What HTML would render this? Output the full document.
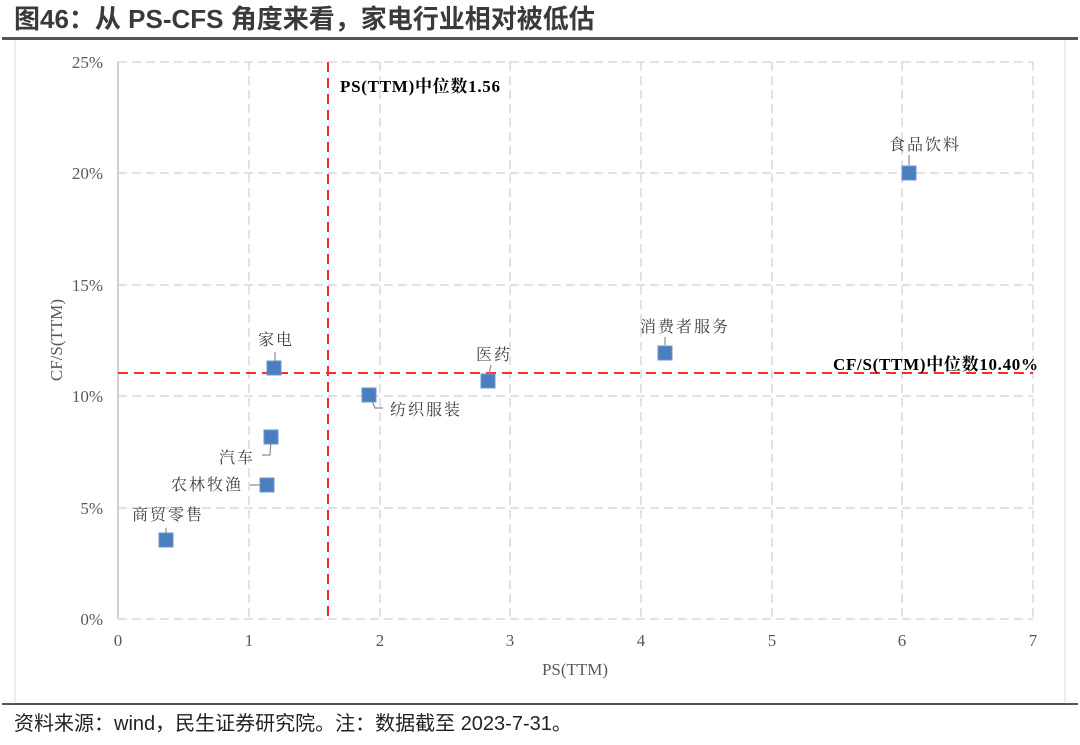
<!DOCTYPE html><html><head><meta charset="utf-8"><style>
body{margin:0;width:1080px;height:740px;background:#fff;overflow:hidden;font-family:"Liberation Sans","Noto Sans CJK SC",sans-serif}
</style></head><body>
<svg width="1080" height="740" xmlns="http://www.w3.org/2000/svg">
<text x="14" y="28" font-size="26" font-weight="bold" fill="#3a3a3a" font-family="Liberation Sans,Noto Sans CJK SC,sans-serif">图46：从 PS-CFS 角度来看，家电行业相对被低估</text>
<rect x="2" y="37" width="1076" height="3" fill="#555"/>
<line x1="15" y1="40" x2="15" y2="703" stroke="#ddd"/>
<line x1="1065" y1="40" x2="1065" y2="703" stroke="#ddd"/>
<rect x="2" y="703" width="1076" height="2" fill="#555"/>
<text x="14" y="730" font-size="20" fill="#222" font-family="Liberation Sans,Noto Sans CJK SC,sans-serif">资料来源：wind，民生证券研究院。注：数据截至 2023-7-31。</text>
<g stroke="#d9d9d9" stroke-width="1.5" stroke-dasharray="9,5" fill="none">
<line x1="118" y1="62" x2="1033" y2="62"/><line x1="118" y1="173" x2="1033" y2="173"/><line x1="118" y1="285" x2="1033" y2="285"/><line x1="118" y1="396" x2="1033" y2="396"/><line x1="118" y1="508" x2="1033" y2="508"/><line x1="118" y1="619" x2="1033" y2="619"/>
<line x1="249" y1="62" x2="249" y2="619"/><line x1="380" y1="62" x2="380" y2="619"/><line x1="510" y1="62" x2="510" y2="619"/><line x1="641" y1="62" x2="641" y2="619"/><line x1="772" y1="62" x2="772" y2="619"/><line x1="902" y1="62" x2="902" y2="619"/><line x1="1033" y1="62" x2="1033" y2="619"/>
</g>
<line x1="118" y1="62" x2="118" y2="619" stroke="#bfbfbf" stroke-width="1.5"/>
<g font-family="Liberation Serif,Noto Serif CJK SC,serif" font-size="17" fill="#595959" text-anchor="end">
<text x="103" y="68">25%</text><text x="103" y="179">20%</text><text x="103" y="291">15%</text><text x="103" y="402">10%</text><text x="103" y="514">5%</text><text x="103" y="625">0%</text></g>
<g font-family="Liberation Serif,Noto Serif CJK SC,serif" font-size="17" fill="#595959" text-anchor="middle">
<text x="118" y="646">0</text><text x="249" y="646">1</text><text x="380" y="646">2</text><text x="510" y="646">3</text><text x="641" y="646">4</text><text x="772" y="646">5</text><text x="902" y="646">6</text><text x="1033" y="646">7</text>
<text x="575" y="675">PS(TTM)</text>
<text transform="translate(62,340) rotate(-90)">CF/S(TTM)</text></g>
<g stroke="#ff2a2a" stroke-width="2" stroke-dasharray="10,6"><line x1="328" y1="62" x2="328" y2="619"/><line x1="118" y1="373" x2="1033" y2="373"/></g>
<g font-family="Liberation Serif,Noto Serif CJK SC,serif" font-size="17" font-weight="bold" fill="#000">
<text x="340" y="92" textLength="160">PS(TTM)中位数1.56</text><text x="833" y="370" textLength="205">CF/S(TTM)中位数10.40%</text></g>
<g stroke="#8c8c8c" stroke-width="1.2" fill="none">
<polyline points="909,165 909,155"/><polyline points="665,345 665,337"/><polyline points="489,374 491,365"/><polyline points="275,362 275,352"/>
<polyline points="371,398 375,408 383,408"/><polyline points="271,440 270,455 262,455"/><polyline points="262,485 250,485"/><polyline points="166,534 166,528"/></g>
<g fill="#4a7ebf" stroke="#6d95cc" stroke-width="1">
<rect x="902" y="166" width="14" height="14"/><rect x="658" y="346" width="14" height="14"/><rect x="481" y="374" width="14" height="14"/><rect x="267" y="361" width="14" height="14"/><rect x="362" y="388" width="14" height="14"/><rect x="264" y="430" width="14" height="14"/><rect x="260" y="478" width="14" height="14"/><rect x="159" y="533" width="14" height="14"/></g>
<g font-family="Noto Serif CJK SC,serif" font-size="16" fill="#404040" letter-spacing="2">
<text x="889" y="150">食品饮料</text><text x="640" y="332">消费者服务</text><text x="476" y="360">医药</text><text x="258" y="345">家电</text><text x="390" y="415">纺织服装</text><text x="219" y="463">汽车</text><text x="171" y="490">农林牧渔</text><text x="132" y="520">商贸零售</text></g>
</svg></body></html>
